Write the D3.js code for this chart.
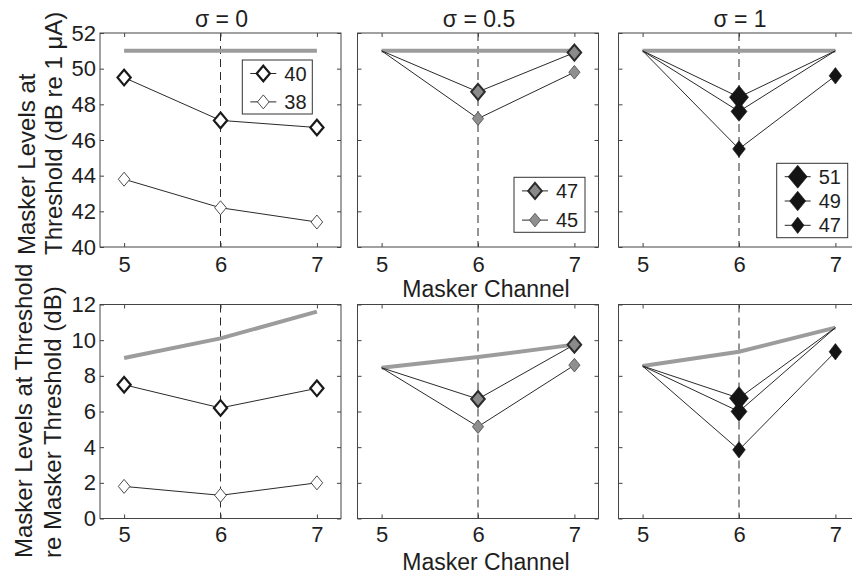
<!DOCTYPE html>
<html><head><meta charset="utf-8">
<script src="https://cdn.jsdelivr.net/npm/d3@7"></script>
<style>
html,body{margin:0;padding:0;background:#fff;}
svg{display:block;font-family:"Liberation Sans",Arial,Helvetica,sans-serif;}
</style>
</head><body>
<svg id="chart" width="852" height="579"></svg>
<script>
// Masker channels and axis ticks
const channels = [5, 6, 7];
const xTicks = [5, 6, 7];
const absTicks = [40, 42, 44, 46, 48, 50, 52];
const relTicks = [0, 2, 4, 6, 8, 10, 12];
const panelTitles = ["σ = 0", "σ = 0.5", "σ = 1"];
const xLabel = "Masker Channel";
const absYLabel = ["Masker Levels at", "Threshold (dB re 1 μA)"];
const relYLabel = ["Masker Levels at Threshold", "re Masker Threshold (dB)"];

// σ = 0
const sig0Names = ["40", "38"];
const sig0Abs = [[49.5, 47.1, 46.7], [43.8, 42.2, 41.4]];
const sig0Rel = [[7.5, 6.2, 7.3], [1.8, 1.3, 2.0]];
const sig0RefAbs = [51, 51, 51];
const sig0RefRel = [9.0, 10.1, 11.6];
const sig0Shown = [[true, true, true], [true, true, true]];

// σ = 0.5
const sig05Names = ["47", "45"];
const sig05Abs = [[51, 48.7, 50.9], [51, 47.2, 49.8]];
const sig05Rel = [[8.45, 6.7, 9.75], [8.45, 5.15, 8.6]];
const sig05RefAbs = [51, 51, 51];
const sig05RefRel = [8.45, 9.05, 9.75];
const sig05Shown = [[false, true, true], [false, true, true]];

// σ = 1
const sig1Names = ["51", "49", "47"];
const sig1Abs = [[51, 48.4, 51], [51, 47.6, 51], [51, 45.5, 49.6]];
const sig1Rel = [[8.55, 6.75, 10.7], [8.55, 6.0, 10.7], [8.55, 3.85, 9.35]];
const sig1RefAbs = [51, 51, 51];
const sig1RefRel = [8.55, 9.35, 10.7];
const sig1Shown = [[false, true, false], [false, true, false], [false, true, true]];

// ---- layout & styles ----
const colX = [100, 357.5, 618.5];
const rowY = [33, 304.5];
const PW = 241, PH = 214;
const INK = "#1e1e1e";

const markerStyles = [
  [{hw: 6.6, hh: 7.8, fill: "#fff", stroke: "#1a1a1a", sw: 2.2},
   {hw: 5.8, hh: 7.0, fill: "#fff", stroke: "#3a3a3a", sw: 0.9}],
  [{hw: 6.8, hh: 8.0, fill: "#8a8a8a", stroke: "#2b2b2b", sw: 2.0},
   {hw: 5.6, hh: 6.8, fill: "#8f8f8f", stroke: "#555", sw: 0.9}],
  [{hw: 9.5, hh: 11.5, fill: "#141414", stroke: "#141414", sw: 0.6},
   {hw: 8.0, hh: 9.8, fill: "#141414", stroke: "#141414", sw: 0.6},
   {hw: 6.3, hh: 8.2, fill: "#141414", stroke: "#141414", sw: 0.6}]
];

const legendBoxes = [
  {dx: 142.3, dy: 27, w: 70, h: 54, row0: 13.5, rowH: 28.4},
  {dx: 156.5, dy: 144.3, w: 71, h: 55, row0: 13.6, rowH: 29.2},
  {dx: 158.2, dy: 130.3, w: 71, h: 74.4, row0: 13.4, rowH: 24.3}
];

const panelsData = [
  {names: sig0Names, abs: sig0Abs, rel: sig0Rel, refAbs: sig0RefAbs, refRel: sig0RefRel, shown: sig0Shown},
  {names: sig05Names, abs: sig05Abs, rel: sig05Rel, refAbs: sig05RefAbs, refRel: sig05RefRel, shown: sig05Shown},
  {names: sig1Names, abs: sig1Abs, rel: sig1Rel, refAbs: sig1RefAbs, refRel: sig1RefRel, shown: sig1Shown}
];

const svg = d3.select("#chart");

function diamond(s) {
  return `M0,${-s.hh}L${s.hw},0L0,${s.hh}L${-s.hw},0Z`;
}

function drawPanel(c, r) {
  const pd = panelsData[c];
  const x0 = colX[c], y0 = rowY[r];
  const x = d3.scaleLinear().domain([4.75, 7.25]).range([x0, x0 + PW]);
  const y = d3.scaleLinear().domain(r === 0 ? [40, 52] : [0, 12]).range([y0 + PH, y0]);
  const ticks = r === 0 ? absTicks : relTicks;
  const ref = r === 0 ? pd.refAbs : pd.refRel;
  const series = r === 0 ? pd.abs : pd.rel;
  const g = svg.append("g");

  // dashed guide at the probe channel
  g.append("line")
    .attr("x1", x(6)).attr("x2", x(6)).attr("y1", y0).attr("y2", y0 + PH)
    .attr("stroke", "#2a2a2a").attr("stroke-width", 1).attr("stroke-dasharray", "8,5");

  const line = d3.line().x((d, i) => x(channels[i])).y(d => y(d));

  // masker-alone reference
  g.append("path").datum(ref).attr("d", line)
    .attr("fill", "none").attr("stroke", "#9c9c9c").attr("stroke-width", 4);

  series.forEach(vals => {
    g.append("path").datum(vals).attr("d", line)
      .attr("fill", "none").attr("stroke", "#2a2a2a").attr("stroke-width", 1);
  });
  // markers drawn largest-first so smaller ones stay visible
  series.forEach((vals, k) => {
    const st = markerStyles[c][k];
    g.selectAll(null).data(vals.map((v, i) => ({v, i})).filter(d => pd.shown[k][d.i]))
      .enter().append("path")
      .attr("d", diamond(st))
      .attr("transform", d => `translate(${x(channels[d.i])},${y(d.v)})`)
      .attr("fill", st.fill).attr("stroke", st.stroke).attr("stroke-width", st.sw)
      .attr("stroke-linejoin", "miter");
  });

  // axes with inward ticks on all four sides
  const styleAxis = sel => {
    sel.select(".domain").remove();
    sel.selectAll(".tick line").attr("stroke", "#444");
    sel.selectAll(".tick text").attr("fill", INK).style("font-size", "22px")
      .style("font-family", '"Liberation Sans",Arial,sans-serif');
  };
  g.append("g").attr("transform", `translate(${x0},0)`)
    .call(d3.axisLeft(y).tickValues(ticks).tickSize(-4).tickPadding(4)
      .tickFormat(c === 0 ? d3.format("d") : () => ""))
    .call(styleAxis);
  g.append("g").attr("transform", `translate(${x0 + PW},0)`)
    .call(d3.axisRight(y).tickValues(ticks).tickSize(-4).tickFormat(() => ""))
    .call(styleAxis);
  g.append("g").attr("transform", `translate(0,${y0 + PH})`)
    .call(d3.axisBottom(x).tickValues(xTicks).tickSize(-4).tickPadding(r === 0 ? 9 : 8)
      .tickFormat(d3.format("d")))
    .call(styleAxis);
  g.append("g").attr("transform", `translate(0,${y0})`)
    .call(d3.axisTop(x).tickValues(xTicks).tickSize(-4).tickFormat(() => ""))
    .call(styleAxis);

  g.append("rect").attr("x", x0).attr("y", y0).attr("width", PW).attr("height", PH)
    .attr("fill", "none").attr("stroke", "#444").attr("stroke-width", 1);

  if (r === 0) {
    // title
    svg.append("text").attr("x", x0 + PW / 2 + 1).attr("y", 27)
      .attr("text-anchor", "middle").attr("fill", INK).style("font-size", "23px")
      .text(panelTitles[c]);
    // legend
    const lb = legendBoxes[c];
    const lg = g.append("g").attr("transform", `translate(${x0 + lb.dx},${y0 + lb.dy})`);
    lg.append("rect").attr("width", lb.w).attr("height", lb.h)
      .attr("fill", "#fff").attr("stroke", "#333").attr("stroke-width", 1);
    pd.names.forEach((nm, k) => {
      const st = markerStyles[c][k];
      const ry = lb.row0 + k * lb.rowH;
      lg.append("line").attr("x1", 8).attr("x2", 34).attr("y1", ry).attr("y2", ry)
        .attr("stroke", "#2a2a2a").attr("stroke-width", 1);
      lg.append("path").attr("d", diamond(st)).attr("transform", `translate(21,${ry})`)
        .attr("fill", st.fill).attr("stroke", st.stroke).attr("stroke-width", st.sw);
      lg.append("text").attr("x", 42).attr("y", ry).attr("dy", "0.36em")
        .attr("fill", INK).style("font-size", "20px").text(nm);
    });
  }
}

for (let r = 0; r < 2; r++) for (let c = 0; c < 3; c++) drawPanel(c, r);

// shared x-axis labels under the middle column
[rowY[0] + PH + 50, rowY[1] + PH + 51].forEach(yy => {
  svg.append("text").attr("x", 486).attr("y", yy).attr("text-anchor", "middle")
    .attr("fill", INK).style("font-size", "23px").text(xLabel);
});

// two-line y-axis labels, bottom-aligned
function yLabel(lines, xs, yEnd) {
  lines.forEach((t, i) => {
    svg.append("text")
      .attr("transform", `translate(${xs[i]},${yEnd}) rotate(-90)`)
      .attr("text-anchor", "start").attr("fill", INK).style("font-size", "24px")
      .text(t);
  });
}
yLabel(absYLabel, [35, 61.5], 255);
yLabel(relYLabel, [31.5, 61], 558);
</script>
</body></html>
